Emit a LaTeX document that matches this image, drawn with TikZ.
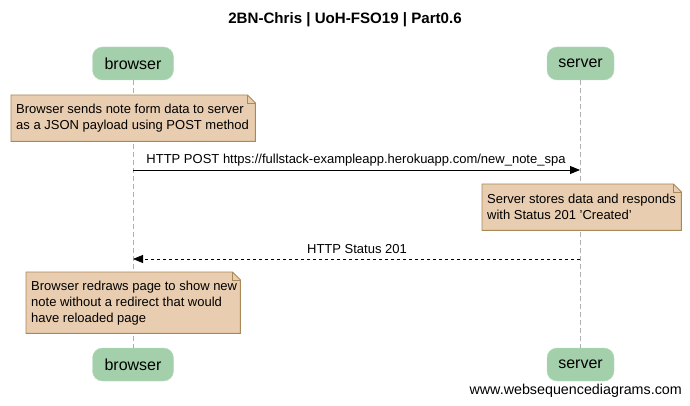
\documentclass[tikz,border=0pt]{standalone}
\usepackage{fontspec}
\setmainfont{Liberation Sans}
\usetikzlibrary{arrows.meta}
\definecolor{actorgreen}{RGB}{163,208,170}
\definecolor{notefill}{RGB}{233,205,176}
\definecolor{noteline}{RGB}{168,137,88}
\definecolor{lifegray}{RGB}{175,175,175}
\newcommand{\notefold}[1]{%
  \filldraw[fill=notefill, draw=noteline, line width=0.9pt]
    (#1.south west) -- (#1.north west) -- ([xshift=-8pt]#1.north east)
    -- ([yshift=-8pt]#1.north east) -- (#1.south east) -- cycle;
  \draw[noteline, line width=0.9pt] ([xshift=-8pt]#1.north east)
    |- ([yshift=-8pt]#1.north east);}
\begin{document}
\begin{tikzpicture}[x=1pt, y=-1pt,
		actor/.style={rectangle, rounded corners=10pt, fill=actorgreen, draw=actorgreen!80!white,
			minimum width=#1, minimum height=33pt, inner sep=0pt, font=\fontsize{16}{18}\selectfont},
		actor/.default=81pt,
		notebox/.style={anchor=north west, inner sep=0pt, minimum width=#1},
		notetext/.style={anchor=west, align=left, inner sep=0pt, font=\fontsize{13}{16}\selectfont},
		lifeline/.style={lifegray, dash pattern=on 5pt off 3pt, line width=0.8pt},
		msg/.style={-{Triangle[length=10pt, width=8pt]}, line width=0.8pt},
		lbl/.style={font=\fontsize{13}{15}\selectfont, inner sep=1pt}]
	\useasboundingbox (0,0) rectangle (690,406);
	\node[font=\bfseries\fontsize{15.1}{17}\selectfont] (title) at (345,20) {2BN-Chris | UoH-FSO19 | Part0.6};
	% participants
	\node[actor] (btop) at (133,63.5) {browser};
	\node[actor=67pt] (stop) at (580.5,63.5) {server};
	\node[actor] (bbot) at (133,364.5) {browser};
	\node[actor=67pt] (sbot) at (580.5,364.5) {server};
	\draw[lifeline] (btop) -- (bbot);
	\draw[lifeline] (stop) -- (sbot);
	% notes
	\node[notebox=244pt, minimum height=46pt] (n1) at (11,95) {};
	\notefold{n1}
	\node[notetext] (n1t) at ([xshift=5pt]n1.west)
		{Browser sends note form data to server\\as a JSON payload using POST method};
	\coordinate (m1b) at (133,170);
	\coordinate (m1s) at (580,170);
	\draw[msg] (m1b) -- (m1s);
	\node[lbl] (m1l) at (356,160) {HTTP POST https://fullstack-exampleapp.herokuapp.com/new\_note\_spa};
	\node[notebox=199pt, minimum height=46pt] (n2) at (482,184) {};
	\notefold{n2}
	\node[notetext] (n2t) at ([xshift=5pt]n2.west)
		{Server stores data and responds\\with Status 201 'Created'};
	\coordinate (m2s) at (580,259);
	\coordinate (m2b) at (133,259);
	\draw[msg, dashed] (m2s) -- (m2b);
	\node[lbl] (m2l) at (357,249) {HTTP Status 201};
	\node[notebox=214pt, minimum height=61pt] (n3) at (26,272) {};
	\notefold{n3}
	\node[notetext] (n3t) at ([xshift=5pt]n3.west)
		{Browser redraws page to show new\\note without a redirect that would\\have reloaded page};
	\node[anchor=east, font=\fontsize{14.3}{16}\selectfont, inner sep=0pt] (credit) at (682,391) {www.websequencediagrams.com};
\end{tikzpicture}
\end{document}
